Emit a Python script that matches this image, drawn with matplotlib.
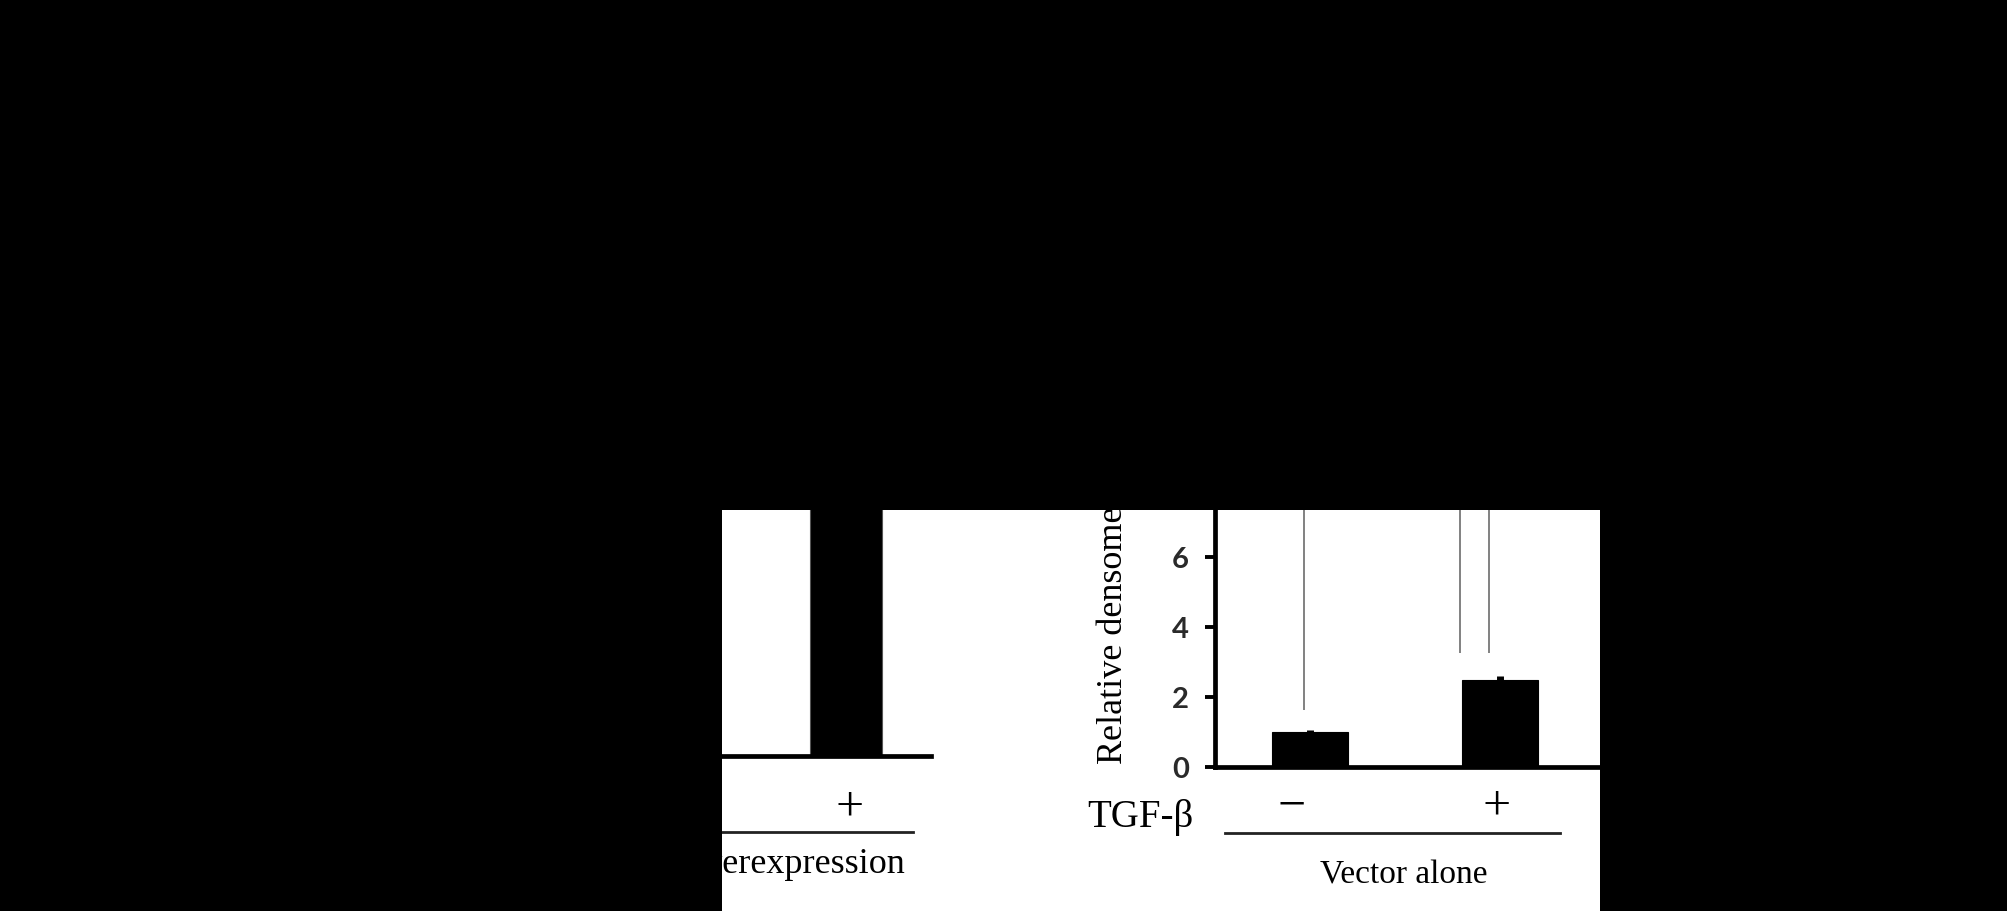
import matplotlib
matplotlib.use("Agg")
import matplotlib.pyplot as plt
import matplotlib.transforms as mtransforms
from matplotlib.patches import Rectangle
from matplotlib.lines import Line2D

# ---------------- data ----------------
left_positions = [0, 1]
left_values = [1.0, 9.0]          # second bar runs off the top of the crop
right_positions = [0, 1]
right_values = [1.0, 2.5]
right_errors = [0.06, 0.1]
right_signs = ["\u2212", "+"]
left_signs = ["\u2212", "+"]
yticks = [0, 2, 4, 6, 8]
ytick_labels = ["0", "2", "4", "6", "8"]
bracket_x = [-0.03, 0.79, 0.94]       # significance bracket legs (grey)
bracket_bottom = [1.63, 3.26, 3.26]
treatment_label = "TGF-\u03b2"
left_group = "Overexpression"
right_group = "Vector alone"
ylabel_text = "Relative densometric units"

# ---------------- layout ----------------
W, H, DPI = 2008, 911, 100
fig = plt.figure(figsize=(W / DPI, H / DPI), dpi=DPI)
fig.patch.set_facecolor("white")

def fx(px):
    return px / W

def fy(py):
    return 1 - py / H

SERIF = ["Liberation Serif", "DejaVu Serif"]
SANS = ["Lato", "DejaVu Sans"]
AXLW = 3.4

def style_axes(ax):
    for s in ["top", "right"]:
        ax.spines[s].set_visible(False)
    for s in ["left", "bottom"]:
        ax.spines[s].set_linewidth(AXLW)
        ax.spines[s].set_color("black")
    ax.set_facecolor("none")
    ax.set_ylim(0, 8)
    ax.set_yticks(yticks)
    ax.set_yticklabels(ytick_labels, family=SANS, fontsize=21,
                       fontweight="bold", color="#2a2a2a")
    ax.tick_params(axis="y", length=7.2, width=2.8, pad=11.5, color="black")
    ax.tick_params(axis="x", length=0, labelbottom=False)
    ax.set_xticks([])

# left panel (mostly cropped away)
ax_l = fig.add_axes([fx(561), fy(756), fx(931) - fx(561), fy(476) - fy(756)])
style_axes(ax_l)
ax_l.set_xlim(-0.5, -0.5 + 370 / 190)
ax_l.bar(left_positions, left_values, width=0.38, color="black",
         edgecolor="#555555", linewidth=0.8, zorder=2)

# right panel
ax_r = fig.add_axes([fx(1215), fy(767), fx(1610) - fx(1215), fy(487) - fy(767)])
style_axes(ax_r)
ax_r.set_xlim(-0.5, -0.5 + 395 / 190)
ax_r.bar(right_positions, right_values, width=0.4, color="black",
         edgecolor="black", linewidth=0.8, zorder=2)
ax_r.errorbar(right_positions, right_values,
              yerr=[[0] * len(right_errors), right_errors],
              fmt="none", ecolor="black", elinewidth=5, capsize=0,
              solid_capstyle="round", zorder=3)
ax_r.vlines(bracket_x, bracket_bottom, 20, colors="#777777", linewidth=1.3,
            zorder=1)

# ---------------- labels ----------------
fig.text(fx(1114), fy(764), ylabel_text, rotation=90, ha="center",
         va="bottom", family=SERIF, fontsize=26)
fig.text(fx(1140), fy(827), treatment_label, ha="center", va="baseline",
         family=SERIF, fontsize=28)

for pos, sign, dx in zip(right_positions, right_signs, [-0.095, -0.02]):
    ax_r.text(pos + dx, 0, sign, transform=ax_r.get_xaxis_transform()
              + mtransforms.ScaledTranslation(0, -40 / DPI, fig.dpi_scale_trans),
              ha="center", va="center", family=SERIF, fontsize=36,
              clip_on=False)
for pos, sign in zip(left_positions, left_signs):
    ax_l.text(pos + 0.02, 0, sign, transform=ax_l.get_xaxis_transform()
              + mtransforms.ScaledTranslation(0, -52 / DPI, fig.dpi_scale_trans),
              ha="center", va="center", family=SERIF, fontsize=36,
              clip_on=False)

fig.add_artist(Line2D([fx(600), fx(913)], [fy(832), fy(832)],
                      color="#222222", linewidth=2.0))
fig.add_artist(Line2D([fx(1225), fx(1560)], [fy(833), fy(833)],
                      color="#222222", linewidth=2.0))
fig.text(fx(905), fy(873), left_group, ha="right", va="baseline",
         family=SERIF, fontsize=26)
fig.text(fx(1404), fy(883), right_group, ha="center", va="baseline",
         family=SERIF, fontsize=24)

# ---------------- crop mask (black outside the visible window) ----------------
for (x0, y0, x1, y1) in [(0, 0, W, 510), (0, 0, 722, H), (1600, 0, W, H)]:
    fig.add_artist(Rectangle((fx(x0), fy(y1)), fx(x1) - fx(x0),
                             fy(y0) - fy(y1), transform=fig.transFigure,
                             facecolor="black", edgecolor="none", zorder=50))

fig.savefig("out.png", dpi=DPI, facecolor="white")
